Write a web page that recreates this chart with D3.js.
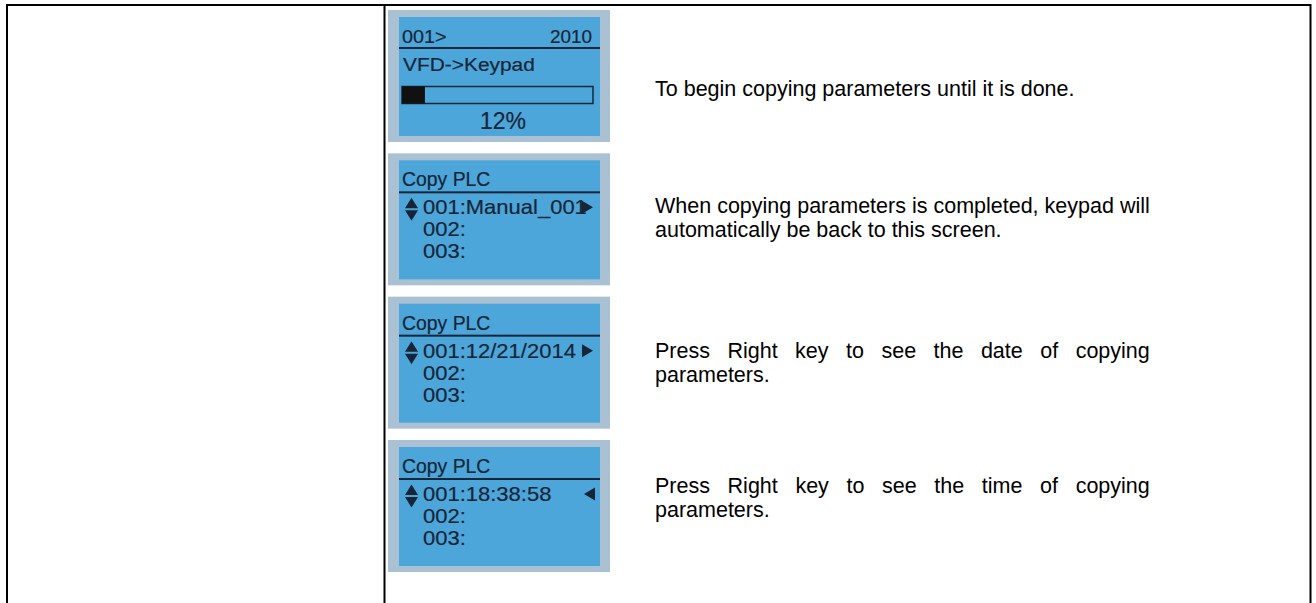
<!DOCTYPE html>
<html><head><meta charset="utf-8">
<script src="https://cdn.jsdelivr.net/npm/d3@7"></script>
<style>html,body{margin:0;padding:0;background:#fff;} svg{display:block}</style>
</head><body>
<svg id="c" width="1316" height="603"></svg>
<script>
// ---------- data ----------
const rowIds = [0, 1, 2, 3];
const screenHeaders = ["001>", "Copy PLC", "Copy PLC", "Copy PLC"];
const screenHeaderRight = ["2010", "", "", ""];
const screen1Line = "VFD->Keypad";
const progressPercent = 12;
const progressLabel = "12%";
const screenEntries = [
  [],
  ["001:Manual_001", "002:", "003:"],
  ["001:12/21/2014", "002:", "003:"],
  ["001:18:38:58", "002:", "003:"]
];
const entryPointers = ["", "right", "right", "left"];
const descriptions = [
  ["To begin copying parameters until it is done."],
  ["When copying parameters is completed, keypad will", "automatically be back to this screen."],
  ["Press Right key to see the date of copying", "parameters."],
  ["Press Right key to see the time of copying", "parameters."]
];

// ---------- layout ----------
const W = 1316, H = 603;
const svg = d3.select("#c");
const FONT = "'Liberation Sans', Arial, sans-serif";
const lcdInk = "#172538";
const lcdBlue = "#4ca6d9";
const lcdFrame = "#a9c1d2";

const screenX = 388, screenW = 222, screenH = 132;
const inset = {l: 11, r: 10, t: 7, b: 6};
const screenTop = d3.scaleLinear().domain([0, 3]).range([10, 440]);
const descBaseline = [96, 213, 358, 493];
const descX = 655, descSize = 21.5, descLine = 24.3;

svg.append("rect").attr("width", W).attr("height", H).attr("fill", "#fff");

// table lines
const tableLines = [
  {x1: 6, y1: 5, x2: 1311, y2: 5},
  {x1: 7, y1: 4, x2: 7, y2: H},
  {x1: 384.5, y1: 4, x2: 384.5, y2: H},
  {x1: 1310.5, y1: 4, x2: 1310.5, y2: H}
];
svg.selectAll("line.tbl").data(tableLines).join("line").attr("class", "tbl")
  .attr("x1", d => d.x1).attr("y1", d => d.y1).attr("x2", d => d.x2).attr("y2", d => d.y2)
  .attr("stroke", "#000").attr("stroke-width", 2);

function lcdText(g, str, x, y, size, sx, anchor) {
  g.append("text")
    .attr("transform", `translate(${x},${y}) scale(${sx},1)`)
    .attr("font-family", FONT).attr("font-size", size)
    .attr("fill", lcdInk).attr("stroke", lcdInk).attr("stroke-width", 0.2)
    .attr("text-anchor", anchor || "start")
    .text(str);
}

const screens = svg.selectAll("g.screen").data(rowIds).join("g")
  .attr("class", "screen")
  .attr("transform", d => `translate(${screenX},${screenTop(d)})`);

screens.append("rect").attr("width", screenW).attr("height", screenH).attr("fill", lcdFrame);
screens.append("rect").attr("x", inset.l).attr("y", inset.t)
  .attr("width", screenW - inset.l - inset.r).attr("height", screenH - inset.t - inset.b)
  .attr("fill", lcdBlue);

const bw = screenW - inset.l - inset.r;

screens.each(function(i) {
  const g = d3.select(this).append("g").attr("transform", `translate(${inset.l},${inset.t})`);
  if (i === 0) {
    lcdText(g, screenHeaders[i], 3, 26, 18, 1.1);
    lcdText(g, screenHeaderRight[i], 193, 26, 18, 1.05, "end");
    g.append("rect").attr("x", 0).attr("y", 30).attr("width", bw).attr("height", 2).attr("fill", lcdInk);
    lcdText(g, screen1Line, 4, 54, 19, 1.1);
    const px = d3.scaleLinear().domain([0, 100]).range([3, 194]);
    g.append("rect").attr("x", px(0)).attr("y", 69.5).attr("width", px(100) - px(0)).attr("height", 17)
      .attr("fill", "none").attr("stroke", lcdInk).attr("stroke-width", 1.5);
    g.append("rect").attr("x", px(0)).attr("y", 69.5).attr("width", px(progressPercent) - px(0)).attr("height", 17)
      .attr("fill", "#111");
    lcdText(g, progressLabel, 104, 112, 23, 1.0, "middle");
  } else {
    lcdText(g, screenHeaders[i], 3, 26, 20, 0.97);
    g.append("rect").attr("x", 0).attr("y", 31).attr("width", bw).attr("height", 2).attr("fill", lcdInk);
    const rowY = d3.scaleLinear().domain([0, 1]).range([54, 76]);
    screenEntries[i].forEach((t, k) => lcdText(g, t, 24, rowY(k), 20, 1.1));
    // up/down icon
    const cy = rowY(0) - 5, ix = 6;
    g.append("path").attr("d", `M${ix + 6.5},${cy - 11.5} L${ix + 13},${cy - 1} L${ix},${cy - 1} Z`).attr("fill", lcdInk);
    g.append("path").attr("d", `M${ix},${cy + 1} L${ix + 13},${cy + 1} L${ix + 6.5},${cy + 11.5} Z`).attr("fill", lcdInk);
    // pointer
    const ty = rowY(0) - 7;
    if (entryPointers[i] === "right") {
      g.append("path").attr("d", `M183,${ty - 6.5} L194,${ty} L183,${ty + 6.5} Z`).attr("fill", lcdInk);
    } else if (entryPointers[i] === "left") {
      g.append("path").attr("d", `M196,${ty - 6.5} L185,${ty} L196,${ty + 6.5} Z`).attr("fill", lcdInk);
    }
  }
});

// descriptions (justified like the document)
function measure(str) {
  const t = svg.append("text").attr("font-family", FONT).attr("font-size", descSize).text(str);
  const w = t.node().getComputedTextLength();
  t.remove();
  return w;
}
const justifyWidth = measure(descriptions[1][0]);

descriptions.forEach((lines, i) => {
  lines.forEach((line, k) => {
    const y = descBaseline[i] + k * descLine;
    const isLast = k === lines.length - 1;
    const t = svg.append("text").attr("font-family", FONT).attr("font-size", descSize)
      .attr("fill", "#000").attr("y", y);
    if (isLast) {
      t.attr("x", descX).text(line);
    } else {
      const words = line.split(" ");
      const spans = words.map(w => t.append("tspan").text(w));
      const widths = spans.map(s => s.node().getComputedTextLength());
      const gap = (justifyWidth - d3.sum(widths)) / (words.length - 1);
      let x = descX;
      spans.forEach((s, j) => { s.attr("x", x); x += widths[j] + gap; });
    }
  });
});
</script>
</body></html>
